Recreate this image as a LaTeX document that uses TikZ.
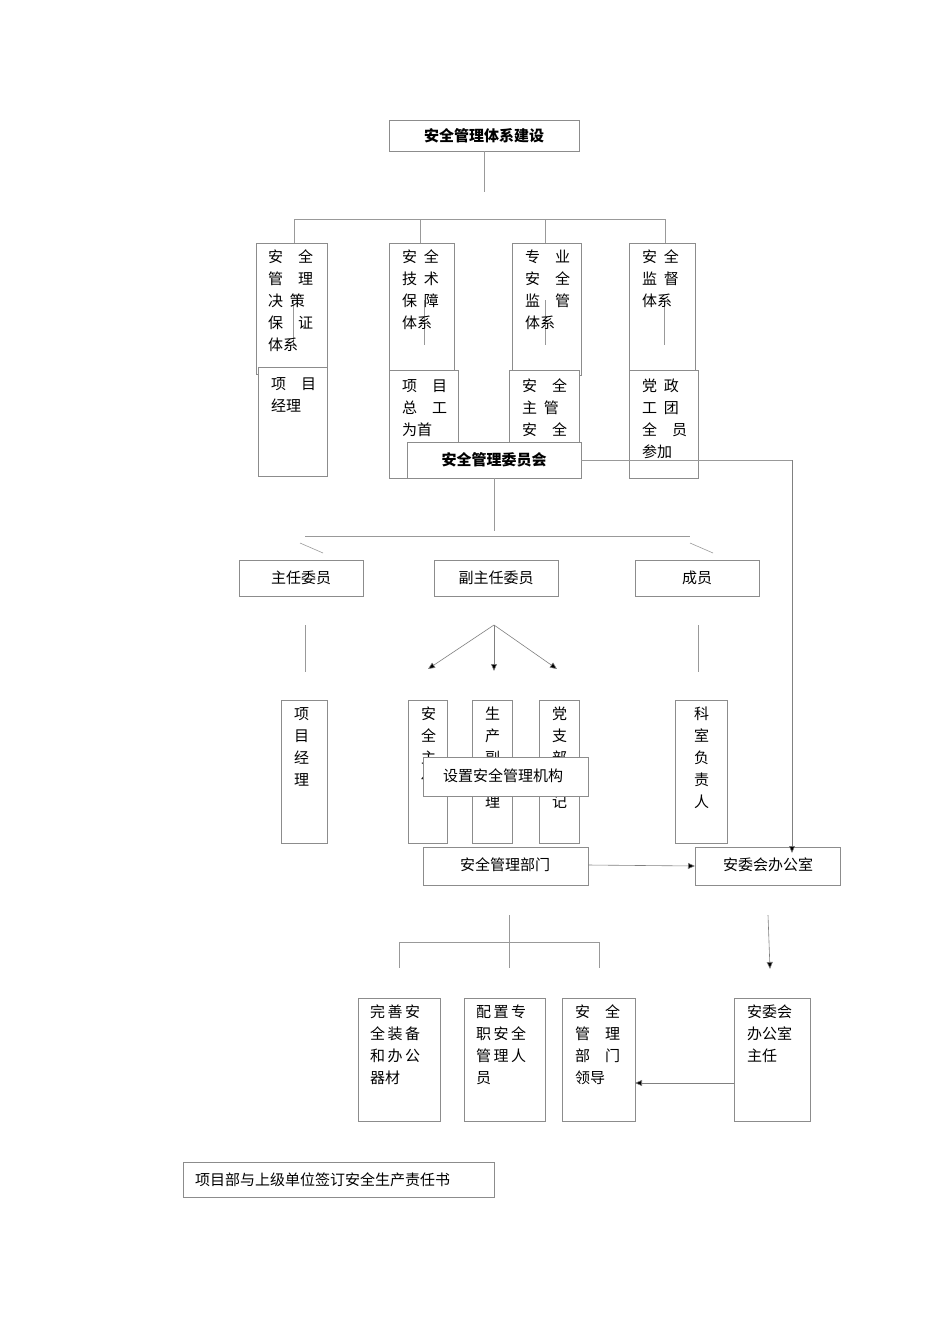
\documentclass[tikz,border=0pt]{standalone}
\usepackage{fontspec}
\setmainfont{Noto Sans CJK SC}
\usetikzlibrary{arrows.meta}
\begin{document}
\begin{tikzpicture}[x=1pt,y=-1pt,
 bx/.style={draw=black!45,fill=white,line width=0.6pt},
 ln/.style={draw=black!40,line width=0.6pt},
 ar/.style={draw=black!50,line width=0.6pt,-{Triangle[length=7pt,width=6pt,fill=black]}},
 tx/.style={font=\fontsize{15}{22}\selectfont,align=left,anchor=north west,inner sep=0pt},
 ct/.style={font=\fontsize{15}{22}\selectfont,inner sep=0pt}]
\useasboundingbox (0,0) rectangle (950,1344);
% title
\path[bx] (389,120) rectangle (579,151); \node[ct,font=\fontsize{15}{22}\selectfont\bfseries] (t) at (484,136) {安全管理体系建设};
\draw[ln] (484,151)--(484,192);
\draw[ln] (294,219)--(665,219);
\foreach \x in {294,420,545,665} \draw[ln] (\x,219)--(\x,243);
% column boxes
\path[bx] (256,243) rectangle (327,374);
\path[bx] (389,243) rectangle (454,370);
\path[bx] (512,243) rectangle (581,375);
\path[bx] (629,243) rectangle (695,370);
\foreach \x in {293,424,545,664} \draw[ln] (\x,300)--(\x,345);
\node[tx] (a1) at (268,250) {安\quad 全\\管\quad 理\\决\;\,策\\保\quad 证\\体系};
\node[tx] (b1) at (402,250) {安\;\,全\\技\;\,术\\保\;\,障\\体系};
\node[tx] (c1) at (525,250) {专\quad 业\\安\quad 全\\监\quad 管\\体系};
\node[tx] (d1) at (642,250) {安\;\,全\\监\;\,督\\体系};
\path[bx] (258,367) rectangle (327,476);
\path[bx] (389,370) rectangle (458,478);
\path[bx] (509,370) rectangle (579,478);
\path[bx] (629,370) rectangle (698,478);
\node[tx] (a2) at (271,377) {项\quad 目\\经理};
\node[tx] (b2) at (402,379) {项\quad 目\\总\quad 工\\为首};
\node[tx] (c2) at (522,379) {安\quad 全\\主\;\,管\\安\quad 全};
\node[tx] (d2) at (642,379) {党\;\,政\\工\;\,团\\全\quad 员\\参加};
% committee
\path[bx] (407,442) rectangle (581,478); \node[ct,font=\fontsize{15}{22}\selectfont\bfseries] (cm) at (494,460) {安全管理委员会};
\coordinate (r1) at (792,460);
\coordinate (cm e) at (581,460);
\draw[ln] (cm e)--(r1);
\draw[ln] (494,478)--(494,531);
\draw[ln] (305,536)--(690,536);
\draw[ln] (300,543)--(323,553); \draw[ln] (690,543)--(713,553);
\path[bx] (239,560) rectangle (363,596); \node[ct] (zr) at (301,578) {主任委员};
\path[bx] (434,560) rectangle (558,596); \node[ct] (fz) at (496,578) {副主任委员};
\path[bx] (635,560) rectangle (759,596); \node[ct] (cy) at (697,578) {成员};
\draw[ln] (305,625)--(305,672); \draw[ln] (698,625)--(698,672);
\coordinate (sp) at (494,625);
\draw[ar] (sp)--(428,669); \draw[ar] (sp)--(494,671); \draw[ar] (sp)--(557,669);
% column boxes middle
\path[bx] (281,700) rectangle (327,843); \node[tx] (p1) at (294,707) {项\\目\\经\\理};
\path[bx] (408,700) rectangle (447,843); \node[tx] (p2) at (421,707) {安\\全\\主\\任};
\path[bx] (472,700) rectangle (512,843); \node[tx] (p3) at (485,707) {生\\产\\副\\经\\理};
\path[bx] (539,700) rectangle (579,843); \node[tx] (p4) at (552,707) {党\\支\\部\\书\\记};
\path[bx] (675,700) rectangle (727,843); \node[tx] (p5) at (694,707) {科\\室\\负\\责\\人};
\path[bx] (423,757) rectangle (588,796); \node[ct] (sz) at (503,776) {设置安全管理机构};
\path[bx] (423,847) rectangle (588,885); \node[ct] (bm) at (505,865) {安全管理部门};
\path[bx] (695,847) rectangle (840,885); \node[ct] (aw) at (768,865) {安委会办公室};
\draw[ar] (bm.east -| 588,0) ++(0,0) (588,865)--(695,866);
\draw[ar] (r1)--(792,853);
\draw[ar] (768,915)--(770,969);
\draw[ln] (509,915)--(509,968);
\draw[ln] (399,942)--(599,942);
\draw[ln] (399,942)--(399,968); \draw[ln] (599,942)--(599,968);
\path[bx] (358,998) rectangle (440,1121); \node[tx] (q1) at (370,1005) {完\,善\,安\\全\,装\,备\\和\,办\,公\\器材};
\path[bx] (464,998) rectangle (545,1121); \node[tx] (q2) at (476,1005) {配\,置\,专\\职\,安\,全\\管\,理\,人\\员};
\path[bx] (562,998) rectangle (635,1121); \node[tx] (q3) at (575,1005) {安\quad 全\\管\quad 理\\部\quad 门\\领导};
\path[bx] (734,998) rectangle (810,1121); \node[tx] (q4) at (747,1005) {安委会\\办公室\\主任};
\draw[ar] (734,1083)--(635,1083);
\path[bx] (183,1162) rectangle (494,1197); \node[ct,anchor=west] (bt) at (195,1180) {项目部与上级单位签订安全生产责任书};
\end{tikzpicture}
\end{document}
